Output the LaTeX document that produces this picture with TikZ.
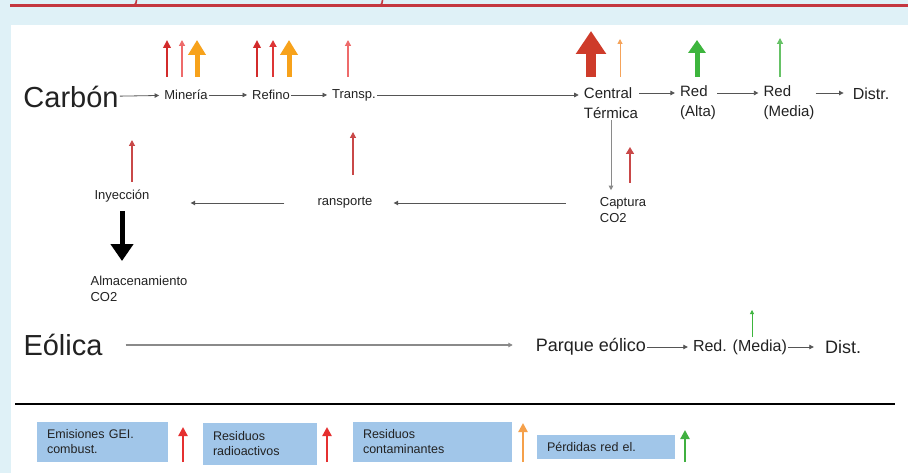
\documentclass[tikz,border=0pt]{standalone}
\usepackage{fontspec}
\setmainfont{Liberation Sans}
\usetikzlibrary{arrows.meta}
\definecolor{bgblue}{HTML}{DFF1F7}
\definecolor{topred}{HTML}{C4373F}
\definecolor{conngray}{HTML}{555555}
\definecolor{lightgray}{HTML}{8A8A8A}
\definecolor{darkred}{HTML}{D22B2B}
\definecolor{midred}{HTML}{DD3535}
\definecolor{pinkred}{HTML}{EE6B6B}
\definecolor{softred}{HTML}{C94848}
\definecolor{bigred}{HTML}{CE3B2A}
\definecolor{orangeA}{HTML}{F7A21B}
\definecolor{orangeB}{HTML}{F5A35A}
\definecolor{greenA}{HTML}{3DB53D}
\definecolor{greenB}{HTML}{66C266}
\definecolor{legred}{HTML}{E53030}
\definecolor{legorange}{HTML}{F5A04A}
\definecolor{leggreen}{HTML}{40B040}
\definecolor{boxblue}{HTML}{A1C6E9}
\definecolor{txt}{HTML}{222222}
\begin{document}
\begin{tikzpicture}[x=1pt,y=-1pt,
  big/.style={font=\fontsize{29}{31}\selectfont, text=txt, inner sep=1pt},
  lbl/.style={font=\fontsize{13}{15}\selectfont, text=txt, inner sep=1pt},
  lbltwo/.style={font=\fontsize{15}{20}\selectfont, text=txt, inner sep=1pt, align=left},
  lblrow/.style={font=\fontsize{18}{20}\selectfont, text=txt, inner sep=1pt},
  lblmid/.style={font=\fontsize{13}{16}\selectfont, text=txt, inner sep=1pt, align=left},
  legbox/.style={fill=boxblue, font=\fontsize{12.5}{15}\selectfont, text=txt, inner xsep=10pt, inner ysep=0pt, align=left, anchor=center},
  conn/.style={draw=conngray, line width=0.8pt, shorten >=4pt, -{Triangle[length=4.5pt,width=4.5pt]}},
  upDR/.style={draw=darkred, line width=2.3pt, -{Triangle[length=8pt,width=7.5pt]}},
  upMR/.style={draw=midred, line width=1.8pt, -{Triangle[length=7pt,width=7pt]}},
  upLR/.style={draw=pinkred, line width=1.3pt, -{Triangle[length=6pt,width=6pt]}},
  upOR/.style={draw=orangeA, line width=5pt, -{Triangle[length=15pt,width=17pt]}},
  upBig/.style={draw=bigred, line width=10pt, -{Triangle[length=23pt,width=29pt]}},
  upOth/.style={draw=orangeB, line width=1pt, -{Triangle[length=5pt,width=5pt]}},
  upGr/.style={draw=greenA, line width=5pt, -{Triangle[length=13pt,width=17pt]}},
  upLG/.style={draw=greenB, line width=1.3pt, -{Triangle[length=6pt,width=6pt]}},
  upRt/.style={draw=softred, line width=1.2pt, -{Triangle[length=6pt,width=6pt]}},
  legarrow/.style={line width=2.5pt, -{Triangle[length=9pt,width=9pt]}}
]
\useasboundingbox (0,0) rectangle (908,473);
% background
\fill[bgblue] (0,0) rectangle (908,473);
\fill[white] (11,25) rectangle (908,473);
\draw[topred, line width=3pt] (10,5.5) -- (908,5.5);
\draw[topred, line width=1.6pt] (136.5,0) .. controls (136.5,6) and (133,6) .. (128,5.5);
\draw[topred, line width=1.6pt] (382.5,0) .. controls (382.5,6) and (379,6) .. (375,5.5);

% ---- Carbon row
\node[big] (carbon) at (71,97) {Carbón};
\node[lbl] (min) at (186,95) {Minería};
\node[lbl] (ref) at (271,95) {Refino};
\node[lbl] (tra) at (354,95) {Transp.};
\node[lbltwo] (ct) at (611,103) {Central\\Térmica};
\node[lbltwo] (ra) at (698,103) {Red\\(Alta)};
\node[lbltwo] (rm) at (789,103) {Red\\(Media)};
\node[font=\fontsize{16}{18}\selectfont, text=txt, inner sep=1pt] (dis) at (871,94) {Distr.};

\draw[conn] (carbon) -- (min);
\draw[conn] (min) -- (ref);
\draw[conn] (ref) -- (tra);
\draw[conn] (tra.east) -- (tra.east -| ct.west);
\draw[conn] ([yshift=10pt]ct.east) -- ([yshift=10pt]ra.west);
\draw[conn] ([yshift=10pt]ra.east) -- ([yshift=10pt]rm.west);
\draw[conn, shorten >=8pt] ([yshift=10pt]rm.east) -- ([yshift=10pt]rm.east -| dis.west);

% indicator arrows row 1
\draw[upDR] (167,77) -- (167,40);
\draw[upLR] (182,77) -- (182,40);
\draw[upOR] (197,77) -- (197,40);
\draw[upDR] (257,77) -- (257,40);
\draw[upMR] (273,77) -- (273,40);
\draw[upOR] (289,77) -- (289,40);
\draw[upLR] (348,77) -- (348,40);
\draw[upBig] (591,77) -- (591,31);
\draw[upOth] (620,77) -- (620,39);
\draw[upGr] (697,77) -- (697,40);
\draw[upLG] (780,77) -- (780,38);

% ---- CO2 branch
\node[lblmid] (cap) at (623,210) {Captura\\CO2};
\node[lbl] (trp) at (345,203) {ransporte};
\node[lbl] (iny) at (122,196) {Inyección};
\node[lblmid] (alm) at (139,289) {Almacenamiento\\CO2};

\draw[conn, draw=lightgray, shorten >=6pt] (ct.south) -- (ct.south |- cap.north);
\draw[conn, shorten <=33pt, shorten >=20pt] (cap.west |- trp.east) -- (trp.east);
\draw[conn, shorten <=32pt, shorten >=40pt] (trp.west) -- (trp.west -| iny.east);
\draw[draw=black, line width=5pt, shorten <=8pt, shorten >=14pt, -{Triangle[length=17pt,width=22pt]}] (iny.south) -- (iny.south |- alm.north);

\draw[upRt, line width=1.5pt, -{Triangle[length=7pt,width=8pt]}] (630,183) -- (630,147);
\draw[upRt] (353,175) -- (353,132);
\draw[upRt] (132,182) -- (132,140);

% ---- Eolica row
\node[big] (eol) at (63,345) {Eólica};
\node[lblrow] (pq) at (591,347) {Parque eólico};
\node[font=\fontsize{16}{18}\selectfont, text=txt, inner sep=1pt] (rmd) at (740,347) {Red. (Media)};
\node[font=\fontsize{18}{20}\selectfont, text=txt, inner sep=1pt] (dis2) at (843,347) {Dist.};

\draw[conn, draw=lightgray, line width=1.3pt, shorten <=22pt, shorten >=22pt] (eol.east) -- (eol.east -| pq.west);
\draw[conn] (pq) -- (rmd);
\draw[conn, shorten >=10pt] (rmd) -- (dis2);
\draw[draw=greenA, line width=0.8pt, -{Triangle[length=4pt,width=4pt]}] (752,337) -- (752,310);

% ---- separator
\draw[black, line width=2pt] (15,404) -- (895,404);

% ---- legend
\node[legbox, text width=111pt, minimum height=40pt] (b1) at (102.5,442) {Emisiones GEI.\\combust.};
\draw[legarrow, draw=legred] (183,462) -- (183,427);
\node[legbox, text width=94pt, minimum height=42pt] (b2) at (260,444) {Residuos\\radioactivos};
\draw[legarrow, draw=legred] (327,462) -- (327,427);
\node[legbox, text width=139pt, minimum height=40pt] (b3) at (432.5,442) {Residuos\\contaminantes};
\draw[legarrow, draw=legorange] (523,462) -- (523,423);
\node[legbox, text width=118pt, minimum height=24pt] (b4) at (606,447) {Pérdidas red el.};
\draw[legarrow, draw=leggreen] (685,462) -- (685,430);
\end{tikzpicture}
\end{document}
